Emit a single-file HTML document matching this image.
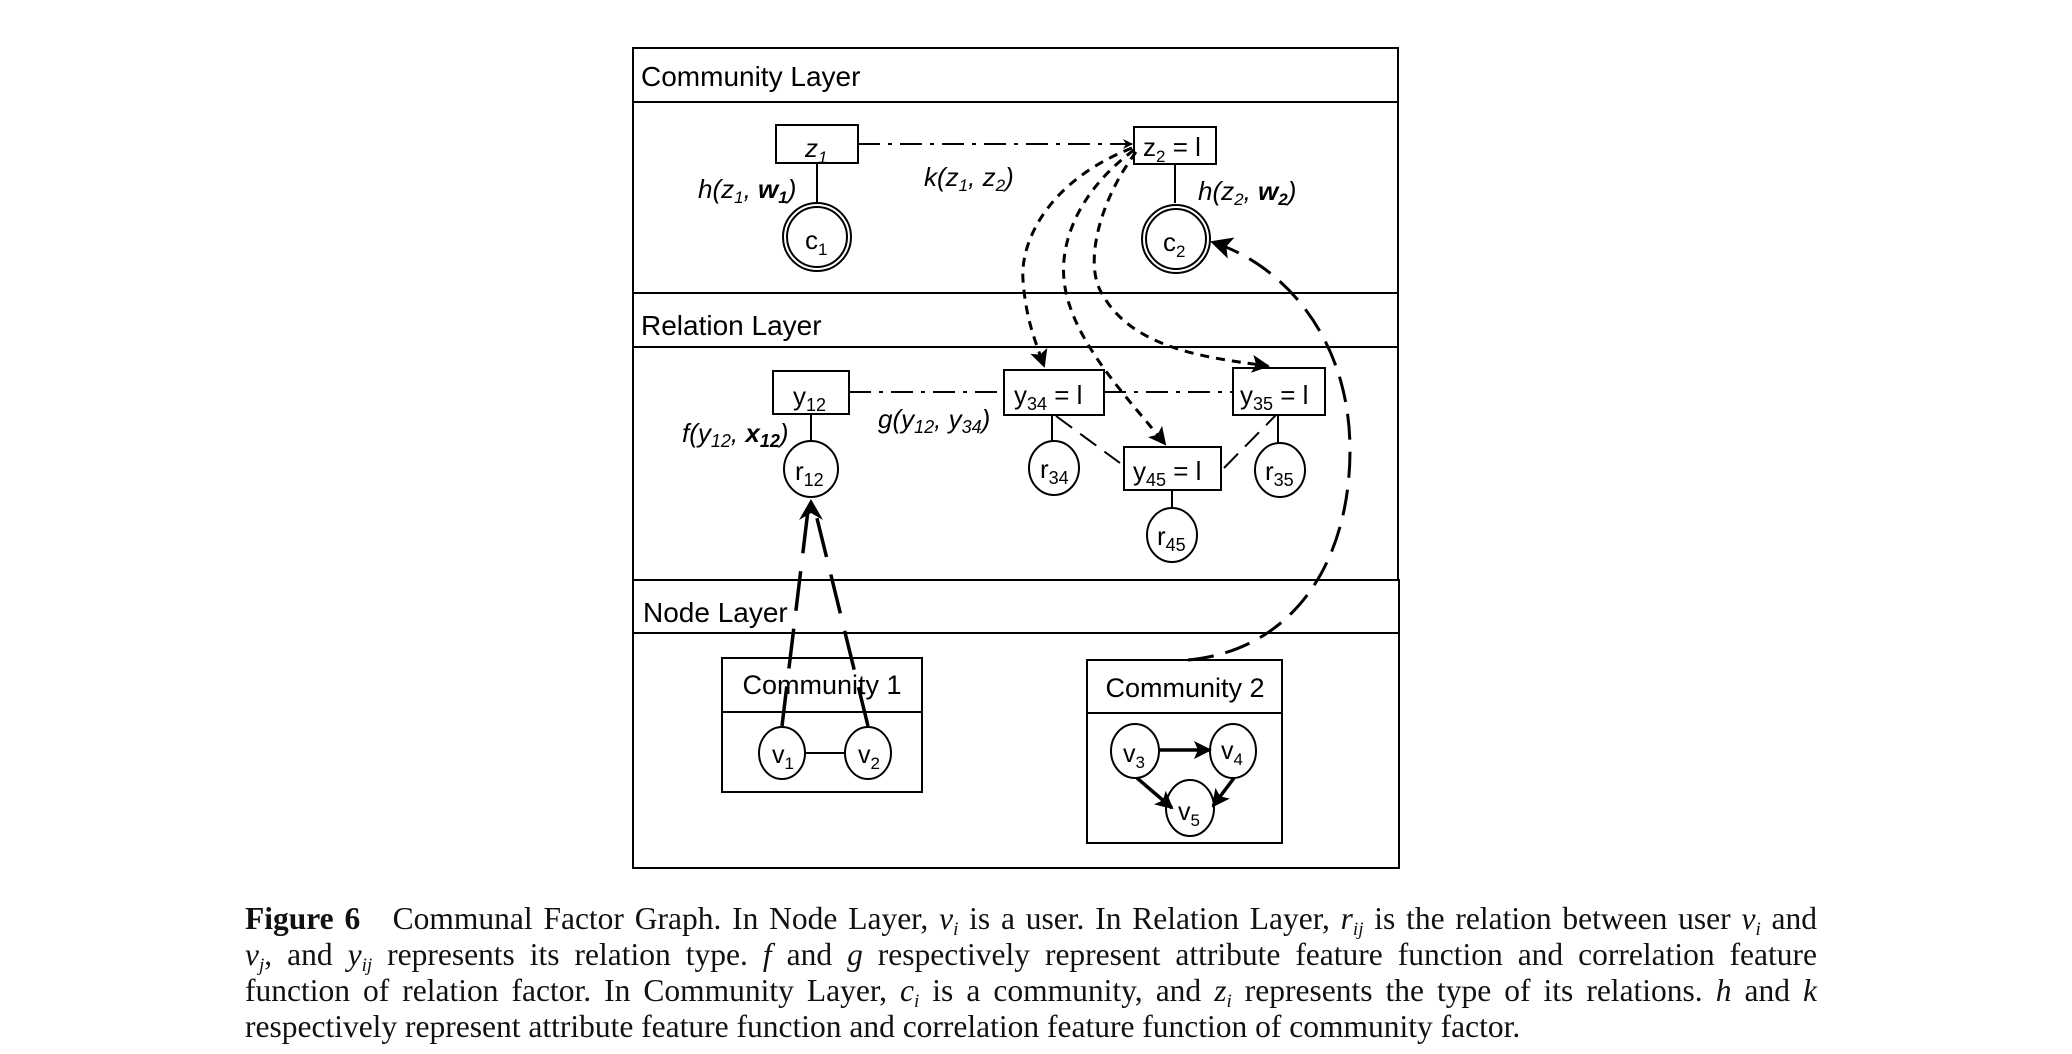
<!DOCTYPE html>
<html><head><meta charset="utf-8"><style>
html,body{margin:0;padding:0;background:#fff;}
body{width:2072px;height:1054px;overflow:hidden;position:relative;}
svg{position:absolute;left:0;top:0;}
.cap{position:absolute;left:245px;width:1572px;font-family:"Liberation Serif",serif;font-size:31.5px;line-height:36px;top:901px;color:#111;}
.cap div{height:36px;text-align:justify;text-align-last:justify;white-space:nowrap;}
.cap div.last{text-align-last:left;}
.cap sub{font-size:19px;line-height:0;vertical-align:0;position:relative;top:6px;}
</style></head><body>
<svg width="2072" height="1054" viewBox="0 0 2072 1054" xmlns="http://www.w3.org/2000/svg" font-family="Liberation Sans, Arial, sans-serif">
<defs>
<marker id="ah" markerWidth="10" markerHeight="10" refX="9" refY="5" orient="auto" markerUnits="userSpaceOnUse" viewBox="0 0 10 10"><path d="M0,0 L10,5 L0,10 L3,5 z" fill="#000"/></marker>
<marker id="ahb" markerWidth="22" markerHeight="22" refX="20" refY="11" orient="auto" markerUnits="userSpaceOnUse" viewBox="0 0 22 22"><path d="M0,0 L22,11 L0,22 L5,11 z" fill="#000"/></marker>
<marker id="ahs" markerWidth="18" markerHeight="18" refX="16" refY="9" orient="auto" markerUnits="userSpaceOnUse" viewBox="0 0 18 18"><path d="M0,0 L18,9 L0,18 L4,9 z" fill="#000"/></marker>
</defs>
<g fill="none" stroke="#000" stroke-width="2">
<rect x="633" y="48" width="765" height="245"/>
<line x1="633" y1="102" x2="1398" y2="102"/>
<rect x="633" y="293" width="765" height="287"/>
<line x1="633" y1="347" x2="1398" y2="347"/>
<rect x="633" y="580" width="766" height="288"/>
<line x1="633" y1="633" x2="1399" y2="633"/>
</g>
<g font-size="28" fill="#000">
<text x="641" y="86">Community Layer</text>
<text x="641" y="335">Relation Layer</text>
<text x="643" y="622">Node Layer</text>
</g>
<g fill="none" stroke="#000" stroke-width="2">
<rect x="776" y="125" width="82" height="38"/>
<rect x="1134" y="127" width="82" height="37"/>
<line x1="817" y1="163" x2="817" y2="202"/>
<line x1="1175" y1="164" x2="1175" y2="203"/>
<circle cx="817" cy="237" r="34"/><circle cx="817" cy="237" r="30"/>
<circle cx="1176" cy="239" r="34"/><circle cx="1176" cy="239" r="30"/>
<line x1="858" y1="144" x2="1132" y2="144" stroke-dasharray="22,8,4,8" marker-end="url(#ah)"/>
</g>
<g font-size="26" fill="#000">
<text x="805" y="157" font-style="italic">z<tspan font-size="17" dy="6">1</tspan></text>
<text x="1143" y="156">z<tspan font-size="17" dy="6">2</tspan><tspan dy="-6"> = l</tspan></text>
<text x="805" y="249">c<tspan font-size="17" dy="6">1</tspan></text>
<text x="1163" y="251">c<tspan font-size="17" dy="6">2</tspan></text>
<text x="698" y="198" font-style="italic">h(z<tspan font-size="17" dy="5">1</tspan><tspan dy="-5">, </tspan><tspan font-weight="bold">w</tspan><tspan font-size="17" font-weight="bold" dy="5">1</tspan><tspan dy="-5">)</tspan></text>
<text x="924" y="186" font-style="italic">k(z<tspan font-size="17" dy="5">1</tspan><tspan dy="-5">, z</tspan><tspan font-size="17" dy="5">2</tspan><tspan dy="-5">)</tspan></text>
<text x="1198" y="200" font-style="italic">h(z<tspan font-size="17" dy="5">2</tspan><tspan dy="-5">, </tspan><tspan font-weight="bold">w</tspan><tspan font-size="17" font-weight="bold" dy="5">2</tspan><tspan dy="-5">)</tspan></text>
</g>
<g fill="none" stroke="#000" stroke-width="2">
<rect x="773" y="371" width="76" height="43"/>
<rect x="1004" y="370" width="100" height="45"/>
<rect x="1233" y="368" width="92" height="47"/>
<rect x="1124" y="447" width="97" height="43"/>
<line x1="811" y1="414" x2="811" y2="441"/>
<line x1="1052" y1="415" x2="1052" y2="441"/>
<line x1="1278" y1="415" x2="1278" y2="443"/>
<line x1="1172" y1="490" x2="1172" y2="508"/>
<ellipse cx="811" cy="469" rx="27" ry="28"/>
<ellipse cx="1054" cy="468" rx="25" ry="27"/>
<ellipse cx="1280" cy="470" rx="25" ry="27"/>
<ellipse cx="1172" cy="535" rx="25" ry="27"/>
<line x1="849" y1="392" x2="1004" y2="392" stroke-dasharray="22,8,4,8"/>
<line x1="1104" y1="392" x2="1233" y2="392" stroke-dasharray="22,8,4,8"/>
<line x1="1056" y1="416" x2="1120" y2="463" stroke-dasharray="20,10"/>
<line x1="1224" y1="468" x2="1276" y2="415" stroke-dasharray="20,10"/>
</g>
<g font-size="26" fill="#000">
<text x="793" y="405">y<tspan font-size="18" dy="6">12</tspan></text>
<text x="1014" y="404">y<tspan font-size="18" dy="6">34</tspan><tspan dy="-6"> = l</tspan></text>
<text x="1240" y="404">y<tspan font-size="18" dy="6">35</tspan><tspan dy="-6"> = l</tspan></text>
<text x="1133" y="480">y<tspan font-size="18" dy="6">45</tspan><tspan dy="-6"> = l</tspan></text>
<text x="795" y="480">r<tspan font-size="18" dy="6">12</tspan></text>
<text x="1040" y="478">r<tspan font-size="18" dy="6">34</tspan></text>
<text x="1265" y="480">r<tspan font-size="18" dy="6">35</tspan></text>
<text x="1157" y="545">r<tspan font-size="18" dy="6">45</tspan></text>
<text x="682" y="442" font-style="italic">f(y<tspan font-size="18" dy="5">12</tspan><tspan dy="-5">, </tspan><tspan font-weight="bold">x</tspan><tspan font-size="18" font-weight="bold" dy="5">12</tspan><tspan dy="-5">)</tspan></text>
<text x="878" y="428" font-style="italic">g(y<tspan font-size="18" dy="5">12</tspan><tspan dy="-5">, y</tspan><tspan font-size="18" dy="5">34</tspan><tspan dy="-5">)</tspan></text>
</g>
<g fill="none" stroke="#000" stroke-width="3" stroke-dasharray="9,7">
<path d="M1132,148 C1050,180 1020,240 1023,280 C1026,320 1035,340 1044,366" marker-end="url(#ahs)"/>
<path d="M1134,150 C1080,190 1060,240 1064,280 C1070,340 1130,400 1165,444" marker-end="url(#ahs)"/>
<path d="M1136,152 C1100,200 1085,260 1100,290 C1130,350 1210,358 1268,366" marker-end="url(#ahs)"/>
</g>
<path d="M1188,660 C1295,650 1350,560 1350,450 C1350,340 1285,265 1212,242" fill="none" stroke="#000" stroke-width="3" stroke-dasharray="26,12" marker-end="url(#ahb)"/>
<g fill="none" stroke="#000" stroke-width="3.5" stroke-dasharray="40,18">
<line x1="782" y1="726" x2="809" y2="502"/>
<line x1="868" y1="726" x2="813" y2="502"/>
</g>
<path d="M811,499 L799,520 L811,513 L823,520 z" fill="#000"/>
<g fill="none" stroke="#000" stroke-width="2">
<rect x="722" y="658" width="200" height="134"/>
<line x1="722" y1="712" x2="922" y2="712"/>
<rect x="1087" y="660" width="195" height="183"/>
<line x1="1087" y1="713" x2="1282" y2="713"/>
<ellipse cx="782" cy="753" rx="23" ry="26"/>
<ellipse cx="868" cy="753" rx="23" ry="26"/>
<line x1="805" y1="753" x2="845" y2="753"/>
<ellipse cx="1135" cy="751" rx="24" ry="27"/>
<ellipse cx="1233" cy="751" rx="23" ry="27"/>
<ellipse cx="1190" cy="808" rx="24" ry="28"/>
</g>
<g stroke="#000" stroke-width="3.5" fill="none">
<line x1="1159" y1="750" x2="1210" y2="750" marker-end="url(#ahs)"/>
<line x1="1137" y1="778" x2="1172" y2="808" marker-end="url(#ahs)"/>
<line x1="1234" y1="778" x2="1213" y2="806" marker-end="url(#ahs)"/>
</g>
<g font-size="27" fill="#000">
<text x="822" y="694" text-anchor="middle">Community 1</text>
<text x="1185" y="697" text-anchor="middle">Community 2</text>
</g>
<g font-size="25" fill="#000">
<text x="772" y="763">v<tspan font-size="17" dy="6">1</tspan></text>
<text x="858" y="763">v<tspan font-size="17" dy="6">2</tspan></text>
<text x="1123" y="762">v<tspan font-size="17" dy="6">3</tspan></text>
<text x="1221" y="759">v<tspan font-size="17" dy="6">4</tspan></text>
<text x="1178" y="820">v<tspan font-size="17" dy="6">5</tspan></text>
</g>
</svg>
<div class="cap">
<div><b>Figure 6</b>&nbsp;&nbsp; Communal Factor Graph. In Node Layer, <i>v<sub>i</sub></i> is a user. In Relation Layer, <i>r<sub>ij</sub></i> is the relation between user <i>v<sub>i</sub></i> and</div>
<div><i>v<sub>j</sub></i>, and <i>y<sub>ij</sub></i> represents its relation type. <i>f</i> and <i>g</i> respectively represent attribute feature function and correlation feature</div>
<div>function of relation factor. In Community Layer, <i>c<sub>i</sub></i> is a community, and <i>z<sub>i</sub></i> represents the type of its relations. <i>h</i> and <i>k</i></div>
<div class="last">respectively represent attribute feature function and correlation feature function of community factor.</div>
</div>
</body></html>
